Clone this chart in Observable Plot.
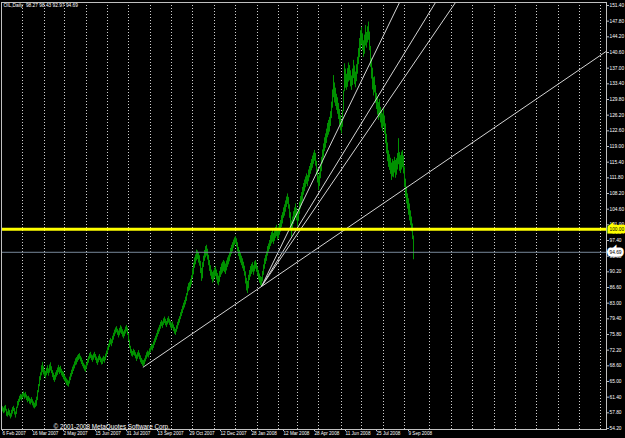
<!DOCTYPE html>
<html><head><meta charset="utf-8">
<script src="https://cdn.jsdelivr.net/npm/d3@7"></script>
<script src="https://cdn.jsdelivr.net/npm/@observablehq/plot@0.6"></script>
<style>html,body{margin:0;padding:0;background:#000;overflow:hidden;}</style>
</head><body><div id="chart"></div>
<script>
// ---- data (bar index 0 = 6 Feb 2007, one bar per trading day) ----
const barLow = [
58.0,57.6,57.8,58.2,57.0,56.8,57.2,56.9,56.4,56.8,
57.5,58.1,57.3,56.6,57.4,58.8,59.4,60.2,60.8,60.5,
61.0,61.4,60.9,61.2,60.6,60.1,60.4,59.8,59.6,60.0,
59.4,58.9,58.7,59.0,59.3,60.6,62.4,63.8,65.2,66.3,
67.0,66.5,66.0,65.6,66.3,66.8,66.2,66.9,67.4,66.8,
65.9,65.2,64.8,65.3,66.0,66.4,67.0,66.6,66.9,66.3,
65.9,65.4,65.0,64.6,64.1,63.9,63.7,64.4,65.2,66.0,
66.6,67.3,67.9,68.6,68.8,69.4,69.8,70.1,69.5,68.9,
68.4,67.9,67.4,67.1,67.8,68.6,69.2,70.0,70.3,69.8,
69.4,69.9,70.4,69.8,69.1,68.7,69.3,69.8,69.3,68.8,
68.9,69.5,69.2,69.8,70.6,71.3,72.1,72.8,73.4,73.0,
73.7,74.5,75.3,75.9,76.2,75.6,75.0,75.5,76.1,75.8,
75.2,74.8,75.3,75.9,76.4,75.6,74.2,72.6,71.4,70.8,
70.6,71.0,70.8,70.2,69.6,70.1,70.6,70.0,69.3,68.9,
68.5,68.3,68.8,69.5,70.1,70.6,70.4,71.0,71.6,72.2,
72.0,72.6,73.3,73.9,74.5,75.2,75.8,76.4,77.0,77.6,
77.2,77.9,78.3,77.8,77.4,78.0,78.4,77.9,77.3,76.8,
77.2,76.5,75.9,75.6,76.3,77.0,77.8,78.4,79.2,79.9,
80.6,81.4,81.9,82.6,83.4,84.7,85.6,85.9,86.5,87.2,
88.6,89.5,91.0,91.8,92.7,93.0,92.2,91.5,89.8,88.0,
88.6,91.2,92.6,93.4,93.8,92.9,91.6,90.3,89.2,88.4,
87.6,87.9,88.6,89.1,88.3,87.4,87.0,87.8,88.9,89.5,
89.9,90.3,90.0,89.6,90.4,91.2,91.8,92.5,93.6,94.2,
94.8,95.6,96.3,96.6,95.9,94.8,93.7,92.9,92.2,91.6,
90.9,90.3,89.2,87.4,85.8,85.2,86.3,88.2,89.0,89.6,
90.1,89.4,90.2,90.8,90.1,89.2,88.3,87.6,87.0,86.8,
87.9,89.4,90.8,91.9,92.6,93.8,94.7,95.3,96.0,96.6,
97.0,96.5,97.2,97.9,98.3,97.4,97.8,98.6,99.3,100.4,
101.2,102.5,103.0,103.9,105.0,105.7,104.6,102.5,100.2,98.2,
99.6,101.1,101.8,102.6,101.9,100.5,101.8,103.4,104.6,105.3,
106.4,107.8,108.6,109.5,110.3,109.8,110.9,111.8,112.6,113.4,
114.0,114.9,115.6,114.5,112.3,110.6,108.9,109.8,111.6,113.2,
115.0,116.4,117.8,118.6,119.7,121.0,121.6,122.3,123.6,125.4,
127.8,130.2,129.0,128.2,127.3,126.4,125.2,123.9,122.6,121.9,
123.4,127.0,131.6,132.4,131.9,132.6,133.8,134.1,132.7,131.9,
133.0,134.6,133.2,132.5,133.9,135.6,137.8,139.4,141.2,142.3,
141.0,139.5,140.2,142.1,141.6,142.8,143.4,141.0,137.2,134.5,
132.0,130.6,131.3,128.9,127.5,126.2,125.0,125.6,124.4,123.2,
122.4,123.5,121.8,119.6,117.3,115.5,114.2,113.5,112.6,111.2,
112.0,111.8,112.9,111.7,112.4,113.6,114.8,113.3,112.8,113.6,
114.1,112.7,109.6,107.2,105.8,104.6,103.2,101.9,100.8,99.4,
97.6,92.97
];
const barHigh = [
59.2,58.9,59.3,59.5,58.6,58.0,58.7,58.3,57.6,58.4,
59.0,59.3,58.8,58.0,59.1,60.4,60.9,61.6,62.0,61.9,
62.3,62.6,62.2,62.5,61.9,61.5,61.6,61.2,60.9,61.3,
60.8,60.3,60.0,60.6,61.4,62.9,64.3,66.1,67.0,68.6,
69.4,68.4,67.6,67.3,68.0,68.6,67.9,68.8,69.3,68.4,
67.5,66.9,66.4,67.0,67.5,68.1,68.7,68.2,68.5,67.8,
67.3,67.1,66.5,66.0,65.6,65.3,65.1,66.0,66.8,67.6,
68.3,68.8,69.5,70.2,70.5,70.9,71.2,71.4,70.8,70.4,
69.8,69.2,68.8,68.6,69.3,70.1,70.7,71.4,71.7,71.1,
70.9,71.3,71.7,71.2,70.6,70.2,70.8,71.2,70.6,70.2,
70.4,70.8,70.6,71.3,72.0,72.9,73.6,74.4,74.9,74.6,
75.4,76.1,76.8,77.3,77.6,77.0,76.6,77.2,77.8,77.5,
76.9,76.4,76.8,77.5,77.9,77.3,76.0,74.5,73.1,72.3,
71.9,72.4,72.1,71.6,71.1,71.6,72.1,71.5,70.9,70.3,
69.9,69.8,70.2,70.9,71.6,72.0,71.8,72.5,73.0,73.6,
73.4,74.1,74.8,75.4,76.0,76.8,77.3,77.9,78.6,79.0,
78.7,79.4,79.8,79.3,78.8,79.5,79.9,79.3,78.8,78.4,
78.7,78.0,77.4,77.0,77.8,78.6,79.3,79.9,80.8,81.5,
82.3,83.0,83.6,84.4,85.2,86.7,87.5,87.8,88.4,89.3,
90.9,92.2,93.4,94.1,95.2,95.0,94.6,93.9,92.6,91.0,
92.3,93.8,95.1,96.0,96.3,95.4,94.0,92.8,91.6,90.6,
90.1,90.4,91.0,91.4,90.6,89.8,89.2,90.3,91.2,92.0,
92.4,92.8,92.5,92.0,92.7,93.4,93.9,94.6,95.6,96.3,
96.9,97.5,98.0,98.3,97.8,96.9,95.8,95.1,94.4,93.8,
93.2,92.4,91.5,90.2,88.7,88.0,89.4,90.5,91.4,91.9,
92.3,91.6,92.5,92.8,92.2,91.3,90.5,89.7,89.1,88.9,
90.3,91.8,93.2,94.0,94.8,96.0,96.6,97.4,98.5,99.2,
99.7,99.0,99.6,100.4,100.9,99.8,100.5,101.2,102.0,103.1,
103.8,104.9,105.6,106.5,107.4,108.1,107.3,105.6,103.8,101.9,
102.8,104.0,104.9,105.8,104.8,103.7,104.6,106.2,107.5,108.4,
109.6,110.5,111.3,112.0,112.7,112.3,113.6,114.4,115.1,116.0,
116.8,117.5,118.1,117.4,115.6,113.8,112.2,113.0,114.5,116.5,
118.2,119.6,121.0,121.9,123.0,124.3,125.0,125.7,127.0,129.2,
132.0,135.3,133.6,132.4,131.0,130.2,128.9,127.5,126.1,125.0,
127.2,131.8,138.0,136.8,135.6,136.9,138.2,137.6,136.4,135.2,
136.8,138.8,137.5,136.1,137.8,139.5,141.5,143.8,145.6,146.4,
144.9,143.3,144.6,146.8,145.2,146.5,147.6,145.3,142.0,139.2,
137.0,134.8,135.0,133.0,131.2,130.3,129.1,129.8,128.0,127.3,
126.5,127.8,126.0,124.2,121.8,119.8,118.0,117.1,116.3,115.2,
116.0,115.6,116.5,115.8,116.2,117.4,120.8,117.6,116.9,117.7,
118.1,116.8,114.3,111.5,109.7,108.1,107.0,105.8,104.2,102.8,
101.2,98.43
];
// trend lines: [bar, price] anchors
const trendMain = [[140.7, 68.29], [604, 140.9]];
const trendFanA = [[259, 86.83], [397, 152.09]];
const trendFanB = [[259, 86.83], [433, 152.09]];
const trendFanC = [[259, 86.83], [453, 152.09]];
const levelLine = 100.00;
const bidPrice = 94.69;
const yTickValues = [54.2,57.8,61.4,65.0,68.6,72.2,75.8,79.4,83.0,86.6,90.2,93.8,97.4,101.0,104.6,108.2,111.8,115.4,119.0,122.6,126.2,129.8,133.4,137.0,140.6,144.2,147.8,151.4];
const dateTickBars = [0,30,61,93,124,155,187,218,249,281,312,343,374,406];
const dateLabels = ["6 Feb 2007","16 Mar 2007","2 May 2007","15 Jun 2007","31 Jul 2007","13 Sep 2007","29 Oct 2007","12 Dec 2007","28 Jan 2008","12 Mar 2008","28 Apr 2008","11 Jun 2008","25 Jul 2008","9 Sep 2008"];
const gridBars = [20,42,62,84,105,126,148,169,190,212,233,255,276,295,316,339,359,381,402,427,449,470,492,513,534,556,577,598];
const titleText = "OIL,Daily  98.27 98.43 92.97 94.69";
const copyrightText = "\u00A9 2001-2008 MetaQuotes Software Corp.";

// ---- build ----
const bars = barLow.map((lo, i) => ({i, low: lo, high: barHigh[i]}));
const trendPoints = [["M", trendMain], ["A", trendFanA], ["B", trendFanB], ["C", trendFanC]]
  .flatMap(([id, pts]) => pts.map(([i, v]) => ({id, i, v})));
const dateMap = new Map(dateTickBars.map((b, k) => [b, dateLabels[k]]));

const chart = Plot.plot({
  width: 625, height: 438,
  marginLeft: 1, marginRight: 19, marginTop: 2, marginBottom: 9,
  style: {background: "#000", color: "#fff", fontFamily: "'Liberation Sans', Arial, sans-serif", fontSize: "4.8px", overflow: "visible"},
  x: {type: "linear", domain: [-1, 604]},
  y: {type: "linear", domain: [53.97, 152.09]},
  marks: [
    Plot.ruleX(gridBars, {x: d => d, stroke: "#cfcfcf", strokeDasharray: "1,2"}),
    Plot.ruleX(bars, {x: "i", y1: "low", y2: "high", stroke: "#009100"}),
    Plot.line(trendPoints, {x: "i", y: "v", z: "id", stroke: "#d4d4d4", strokeWidth: 1, clip: true}),
    Plot.ruleY([levelLine], {y: d => d, stroke: "#ffff00", strokeWidth: 3}),
    Plot.ruleY([bidPrice], {y: d => d, stroke: "#778899"}),
    Plot.frame({stroke: "#c0c0c0"}),
    Plot.axisY(yTickValues, {anchor: "right", tickSize: 2, tickPadding: 1, tickFormat: d => d.toFixed(2), fontSize: 4.8, label: null, stroke: "#c0c0c0"}),
    Plot.axisX(dateTickBars, {anchor: "bottom", tickSize: 2, tickPadding: 0.5, tickFormat: d => dateMap.get(d), textAnchor: "start", fontSize: 4.6, label: null, stroke: "#c0c0c0"}),
    Plot.text([levelLine], {y: d => d, frameAnchor: "right", dx: 3, textAnchor: "start", text: d => d.toFixed(2), fill: "#000", stroke: "#ffff00", strokeWidth: 5, strokeLinejoin: "miter", fontSize: 4.8}),
    Plot.text([bidPrice], {y: d => d, frameAnchor: "right", dx: 3, textAnchor: "start", text: d => d.toFixed(2), fill: "#000", stroke: "#ffffff", strokeWidth: 5, strokeLinejoin: "miter", fontSize: 4.8}),
    Plot.text([titleText], {frameAnchor: "top-left", dx: 2, dy: 1.5, lineAnchor: "top", textAnchor: "start", fill: "#fff", fontSize: 4.8}),
    Plot.text([copyrightText], {frameAnchor: "bottom-left", dx: 52, dy: -0.5, lineAnchor: "bottom", textAnchor: "start", fill: "#fff", fontSize: 6.3})
  ]
});
document.getElementById("chart").appendChild(chart);
</script></body></html>
